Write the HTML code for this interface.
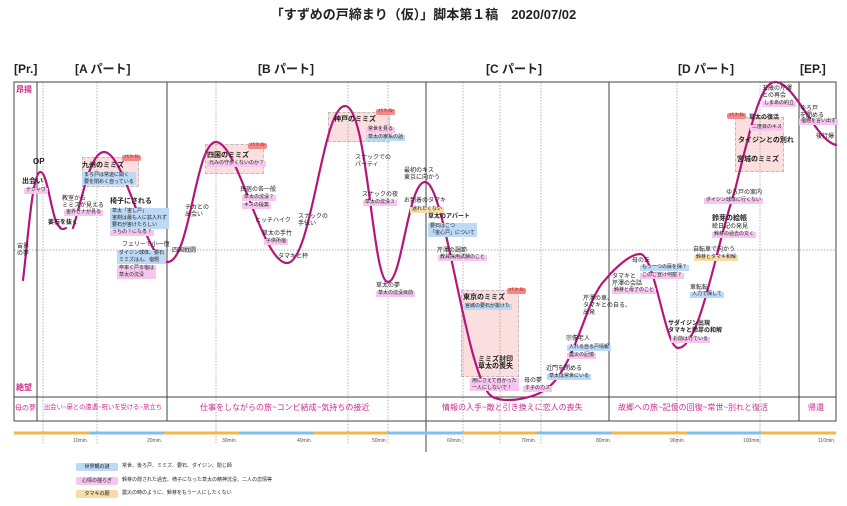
<!DOCTYPE html>
<html><head><meta charset="utf-8"><style>
body{margin:0;width:847px;height:506px;background:#fff;position:relative;overflow:hidden;font-family:"Liberation Sans","Noto Sans CJK JP",sans-serif;color:#222}
.a{position:absolute;white-space:nowrap;line-height:1.1}
.t{font-size:6px}
.b{font-weight:bold}
.bl{background:#bcd9f5;font-size:5px;padding:0 2px}
.pk{background:#f6c6ee;font-size:5px;padding:0 2px}
.or{background:#f8dca6;font-size:5px;padding:0 2px}
.h{font-size:12px;font-weight:bold}
.bt{background:#f08a8a;color:#a00;font-size:5px;padding:0 2px;border-radius:2px}
.box{position:absolute;background:#fbdede;border:1px dashed #bbb}
.m{font-size:8px;color:#cf2a8a}
.tk{font-size:5px;color:#555;position:absolute;top:438px}
</style></head><body>
<div class="a" style="left:0;width:847px;text-align:center;top:8px;font-size:13px;font-weight:bold">「すずめの戸締まり（仮）」脚本第１稿　2020/07/02</div>
<div class="a h" style="left:14px;top:63px">[Pr.]</div>
<div class="a h" style="left:75px;top:63px">[A パート]</div>
<div class="a h" style="left:258px;top:63px">[B パート]</div>
<div class="a h" style="left:486px;top:63px">[C パート]</div>
<div class="a h" style="left:678px;top:63px">[D パート]</div>
<div class="a h" style="left:800px;top:63px">[EP.]</div>

<div class="box" style="left:82px;top:157px;width:55px;height:28px"></div>
<div class="box" style="left:205px;top:144px;width:57px;height:28px"></div>
<div class="box" style="left:328px;top:112px;width:60px;height:28px"></div>
<div class="box" style="left:461px;top:290px;width:56px;height:85px"></div>
<div class="box" style="left:735px;top:117px;width:47px;height:53px"></div>

<svg width="847" height="506" style="position:absolute;left:0;top:0">
<g stroke="#999" stroke-width="0.7" stroke-dasharray="1.5,1.5" fill="none">
<line x1="43" y1="82" x2="43" y2="445"/><line x1="97" y1="82" x2="97" y2="445"/>
<line x1="216" y1="82" x2="216" y2="445"/><line x1="348" y1="82" x2="348" y2="445"/>
<line x1="388" y1="82" x2="388" y2="445"/><line x1="463" y1="82" x2="463" y2="445"/>
<line x1="500" y1="82" x2="500" y2="445"/><line x1="541" y1="82" x2="541" y2="445"/>
<line x1="677" y1="82" x2="677" y2="445"/><line x1="760" y1="82" x2="760" y2="445"/>
<line x1="14" y1="250" x2="836" y2="250"/>
</g>
<g stroke="#444" stroke-width="1" fill="none">
<rect x="14" y="82" width="822" height="339"/>
<line x1="14" y1="397" x2="836" y2="397"/>
<line x1="37" y1="82" x2="37" y2="421"/>
<line x1="167" y1="82" x2="167" y2="421"/>
<line x1="426" y1="82" x2="426" y2="452"/>
<line x1="609" y1="82" x2="609" y2="421"/>
<line x1="799" y1="82" x2="799" y2="421"/>
</g>
<g stroke-width="3">
<line x1="14" y1="433" x2="90" y2="433" stroke="#f2b54f"/><line x1="90" y1="433" x2="164" y2="433" stroke="#7fc0ea"/>
<line x1="164" y1="433" x2="239" y2="433" stroke="#f2b54f"/><line x1="239" y1="433" x2="314" y2="433" stroke="#7fc0ea"/>
<line x1="314" y1="433" x2="388" y2="433" stroke="#f2b54f"/><line x1="388" y1="433" x2="463" y2="433" stroke="#7fc0ea"/>
<line x1="463" y1="433" x2="537" y2="433" stroke="#f2b54f"/><line x1="537" y1="433" x2="612" y2="433" stroke="#7fc0ea"/>
<line x1="612" y1="433" x2="687" y2="433" stroke="#f2b54f"/><line x1="687" y1="433" x2="761" y2="433" stroke="#7fc0ea"/>
<line x1="761" y1="433" x2="836" y2="433" stroke="#f2b54f"/>
</g>
<g stroke="#b5167a" stroke-width="2.2" fill="none" stroke-linecap="round">
<path d="M23 280 C28 240 32 175 40 172 C48 170 52 225 60 227"/>
<path d="M60 228 Q63 230 66 228"/>
<path d="M73 228 C82 200 90 152 104 152 C125 152 145 260 167 262 C190 264 195 142 216 142 C238 142 262 263 287 263 C312 263 322 106 345 106 C368 106 372 282 388 282 C402 282 408 182 425 182 C445 182 465 370 490 395 C500 404 530 400 545 390 C575 370 585 300 605 280 C615 268 630 254 640 254 C655 254 665 348 678 348 C700 348 715 250 735 190 C750 130 760 82 775 82 C795 82 815 140 836 145"/>
</g>
</svg>

<div class="a b" style="left:16px;top:86px;font-size:8px;color:#cf2a8a">昂揚</div>
<div class="a b" style="left:16px;top:384px;font-size:8px;color:#cf2a8a">絶望</div>

<div class="a t" style="left:17px;top:244px">宙界<br>の夢</div>
<div class="a b" style="left:33px;top:158px;font-size:8px">OP</div>
<div class="a b" style="left:22px;top:178px;font-size:7px">出会い</div>
<div class="a pk" style="left:24px;top:188px">デジャヴ</div>
<div class="a b" style="left:48px;top:220px;font-size:6px">要石を抜く</div>
<div class="a t" style="left:62px;top:196px">教室から<br>ミミズが見える</div>
<div class="a pk" style="left:64px;top:210px">宙界ゼナが見る</div>
<div class="a b" style="left:82px;top:162px;font-size:7px">九州のミミズ</div>
<div class="a bt" style="left:122px;top:155px">バトル</div>
<div class="a bl" style="left:82px;top:172px;line-height:1.3">まろ戸は常道に開く<br>要を閉めく自っている</div>
<div class="a b" style="left:110px;top:198px;font-size:7px">椅子にされる</div>
<div class="a bl" style="left:110px;top:208px;line-height:1.4">草太「宙し戸」<br>宙剣は最も人に拡入れず<br>要石が宙けたらしい</div>
<div class="a pk" style="left:110px;top:230px">うちの？になる？</div>
<div class="a t" style="left:122px;top:242px">フェリーで小一復</div>
<div class="a bl" style="left:117px;top:250px;line-height:1.4">ダイジン球体、要石<br>ミミズはん、宿題</div>
<div class="a pk" style="left:117px;top:265px;line-height:1.4">卒率く戸る宿は<br>草太の沈没</div>
<div class="a t" style="left:172px;top:248px">四国戦闘</div>
<div class="a t" style="left:185px;top:205px">チカとの<br>出会い</div>
<div class="a b" style="left:207px;top:152px;font-size:7px">四国のミミズ</div>
<div class="a bt" style="left:248px;top:143px">バトル</div>
<div class="a pk" style="left:207px;top:161px">元みの守歩くないのか？</div>
<div class="a t" style="left:240px;top:187px">民宿の各一般</div>
<div class="a pk" style="left:242px;top:195px">草太の沈没？</div>
<div class="a pk" style="left:242px;top:203px">キスの提案</div>
<div class="a t" style="left:255px;top:218px">ヒッチハイク</div>
<div class="a t" style="left:262px;top:231px">草太の手竹</div>
<div class="a pk" style="left:264px;top:239px">子供所宿</div>
<div class="a t" style="left:278px;top:254px">タマキと秤</div>
<div class="a t" style="left:298px;top:214px">スナックの<br>手伝い</div>
<div class="a b" style="left:334px;top:116px;font-size:7px">神戸のミミズ</div>
<div class="a bt" style="left:376px;top:109px">バトル</div>
<div class="a pk" style="left:366px;top:127px">常世を見る</div>
<div class="a bl" style="left:366px;top:135px">草太の家系の話</div>
<div class="a t" style="left:355px;top:155px">スナックでの<br>パーティ</div>
<div class="a t" style="left:362px;top:192px">スナックの夜</div>
<div class="a pk" style="left:363px;top:200px">草太の沈没３</div>
<div class="a t" style="left:376px;top:283px">草太の夢</div>
<div class="a pk" style="left:376px;top:291px">草太の沈没目前</div>
<div class="a t" style="left:404px;top:168px">最初のキス<br>東京に向かう</div>
<div class="a t" style="left:404px;top:198px">お到着のタマキ</div>
<div class="a or" style="left:410px;top:207px">迷れたくない</div>
<div class="a b" style="left:428px;top:214px;font-size:6px">草太のアパート</div>
<div class="a bl" style="left:428px;top:223px;line-height:1.4">要石はこつ<br>「宙心戸」について</div>
<div class="a t" style="left:437px;top:248px">芹澤の調節</div>
<div class="a pk" style="left:438px;top:255px">教員採用試験のこと</div>
<div class="a b" style="left:463px;top:294px;font-size:7px">東京のミミズ</div>
<div class="a bt" style="left:507px;top:288px">バトル</div>
<div class="a bl" style="left:463px;top:304px">宮城の要石が抜けた</div>
<div class="a b" style="left:478px;top:356px;font-size:7px;line-height:1.05">ミミズ封印<br>草太の喪失</div>
<div class="a pk" style="left:470px;top:378px;line-height:1.3">用にさえて自かった<br>一人にしないで！</div>
<div class="a t" style="left:524px;top:378px">母の夢</div>
<div class="a pk" style="left:523px;top:386px">す子の力ス</div>
<div class="a t" style="left:546px;top:366px">近門を閉める</div>
<div class="a bl" style="left:547px;top:374px">草太は常世にいる</div>
<div class="a t" style="left:566px;top:336px">宗像老人</div>
<div class="a bl" style="left:567px;top:345px">入れる自る戸情報</div>
<div class="a pk" style="left:567px;top:353px">震災の記憶</div>
<div class="a t" style="left:583px;top:296px;line-height:1.2">芹澤の車、<br>タマキとの自る、<br>出発</div>
<div class="a t" style="left:612px;top:274px">タマキと<br>芹澤の会話</div>
<div class="a pk" style="left:612px;top:288px">鈴芽と母了のこと</div>
<div class="a t" style="left:632px;top:258px">母の丘</div>
<div class="a bl" style="left:640px;top:265px">もう一つの扉を探？</div>
<div class="a pk" style="left:640px;top:273px">このご宣け何窟？</div>
<div class="a t" style="left:690px;top:285px">車転転</div>
<div class="a bl" style="left:690px;top:292px">人力で探して</div>
<div class="a b" style="left:668px;top:321px;font-size:6px;line-height:1.15">サダイジン出現<br>タマキと鈴芽の和解</div>
<div class="a pk" style="left:671px;top:337px">お前は行ている</div>
<div class="a t" style="left:693px;top:247px">自転車で向かう</div>
<div class="a or" style="left:694px;top:255px">鈴芽とタマキ和解</div>
<div class="a b" style="left:712px;top:215px;font-size:7px">鈴芽の絵帳</div>
<div class="a t" style="left:712px;top:224px">絵日記の発見</div>
<div class="a pk" style="left:712px;top:232px">鈴芽の過去の文く</div>
<div class="a t" style="left:726px;top:190px">ゆろ戸の案内</div>
<div class="a pk" style="left:704px;top:198px">ダイジン球体に行くない</div>
<div class="a bt" style="left:727px;top:113px">バトル</div>
<div class="a b" style="left:749px;top:115px;font-size:6px">草太の復活</div>
<div class="a pk" style="left:750px;top:125px">二度目のキス</div>
<div class="a b" style="left:738px;top:137px;font-size:7px">タイジンとの別れ</div>
<div class="a b" style="left:737px;top:156px;font-size:7px">宮城のミミズ</div>
<div class="a t" style="left:762px;top:86px">五歳の芹澤<br>との再会</div>
<div class="a pk" style="left:762px;top:101px">しまあの約立</div>
<div class="a t" style="left:800px;top:106px">ゆろ戸<br>を閉める</div>
<div class="a pk" style="left:799px;top:119px">宿題を言い出す</div>
<div class="a t" style="left:816px;top:134px">後行爆</div>

<div class="a m" style="left:15px;top:405px;font-size:7px">母の夢</div>
<div class="a m" style="left:44px;top:405px;font-size:6.3px">出会い~扉との遭遇~呪いを受ける~旅立ち</div>
<div class="a m" style="left:200px;top:404px">仕事をしながらの旅~コンビ結成~気持ちの接近</div>
<div class="a m" style="left:442px;top:404px">情報の入手~敵と引き換えに恋人の喪失</div>
<div class="a m" style="left:618px;top:404px">故郷への旅~記憶の回復~常世~別れと復活</div>
<div class="a m" style="left:808px;top:404px">帰還</div>

<div class="tk" style="left:73px">10min.</div><div class="tk" style="left:147px">20min.</div>
<div class="tk" style="left:222px">30min.</div><div class="tk" style="left:297px">40min.</div>
<div class="tk" style="left:372px">50min.</div><div class="tk" style="left:447px">60min.</div>
<div class="tk" style="left:521px">70min.</div><div class="tk" style="left:596px">80min.</div>
<div class="tk" style="left:670px">90min.</div><div class="tk" style="left:743px">100min.</div>
<div class="tk" style="left:818px">110min.</div>

<div class="a" style="left:76px;top:463px;width:42px;height:8px;background:#bcd9f5;font-size:5px;text-align:center;line-height:8px;border-radius:2px">世界観の謎</div>
<div class="a" style="left:122px;top:464px;font-size:5px">常世、後ろ戸、ミミズ、要石、ダイジン、閉じ師</div>
<div class="a" style="left:76px;top:477px;width:42px;height:8px;background:#f6c6ee;font-size:5px;text-align:center;line-height:8px;border-radius:2px">心情の揺らぎ</div>
<div class="a" style="left:122px;top:478px;font-size:5px">鈴芽の隠された過去、椅子になった草太の精神沈没、二人の恋情等</div>
<div class="a" style="left:76px;top:490px;width:42px;height:8px;background:#f8dca6;font-size:5px;text-align:center;line-height:8px;border-radius:2px">タマキの願</div>
<div class="a" style="left:122px;top:491px;font-size:5px">震災の時のように、鈴芽をもう一人にしたくない</div>
</body></html>
